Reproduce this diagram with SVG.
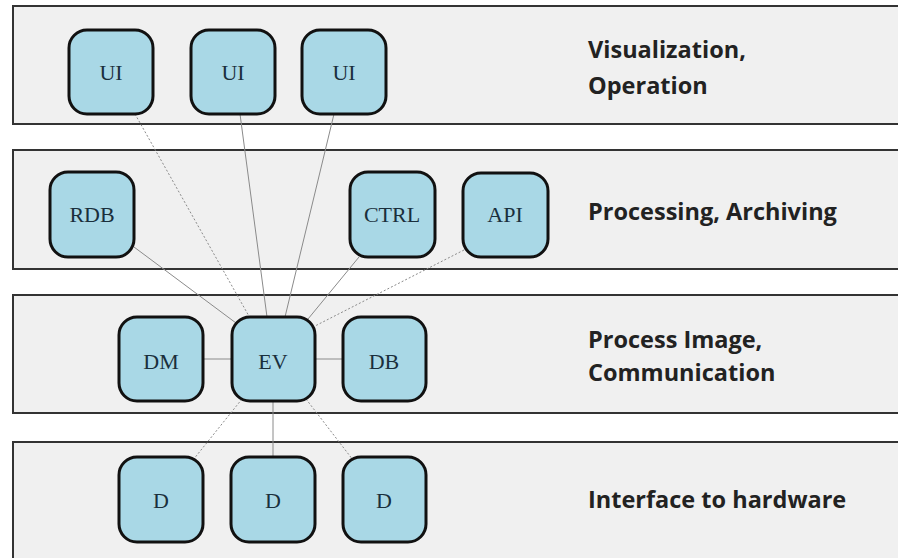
<svg xmlns="http://www.w3.org/2000/svg" width="898" height="558" viewBox="0 0 898 558">
<style>
.band{fill:#f0f0f0;stroke:#333;stroke-width:2}
.node rect{fill:#a9d8e6;stroke:#111;stroke-width:3}
.node text{font-family:"Liberation Serif","Times New Roman",serif;font-size:22px;fill:#1a2f3c;text-anchor:middle}
.lbl{font-family:"Open Sans","Liberation Sans",sans-serif;font-weight:700;font-size:23.5px;fill:#222}
.c line{stroke:#8a8a8a;stroke-width:1}
.c .dot{stroke-dasharray:2 2}
</style>
<rect width="898" height="558" fill="#fff"/>
<g id="bands">
<rect class="band" x="13" y="6" width="900" height="118"/>
<rect class="band" x="13" y="150" width="900" height="119"/>
<rect class="band" x="13" y="295" width="900" height="118"/>
<rect class="band" x="13" y="442" width="900" height="130"/>
</g>
<g id="labels">
<text class="lbl" x="588" y="58">Visualization,</text>
<text class="lbl" x="588" y="94">Operation</text>
<text class="lbl" x="588" y="220">Processing, Archiving</text>
<text class="lbl" x="588" y="348">Process Image,</text>
<text class="lbl" x="588" y="381">Communication</text>
<text class="lbl" x="588" y="508">Interface to hardware</text>
</g>
<g id="connectors" class="c">
<line class="dot" x1="135" y1="114" x2="250" y2="318"/>
<line x1="240" y1="114" x2="267" y2="317"/>
<line x1="334" y1="114" x2="285" y2="317"/>
<line x1="134" y1="247" x2="236" y2="323"/>
<line x1="359" y1="257" x2="308" y2="319"/>
<line class="dot" x1="464" y1="250" x2="315" y2="326"/>
<line x1="203" y1="359" x2="232" y2="359"/>
<line x1="315" y1="359" x2="343" y2="359"/>
<line class="dot" x1="242" y1="399" x2="193" y2="460"/>
<line x1="273" y1="400" x2="273" y2="457"/>
<line class="dot" x1="306" y1="399" x2="353" y2="460"/>
</g>
<g id="ui1" class="node"><rect x="69" y="30" width="84" height="84" rx="18"/><text x="111" y="80">UI</text></g>
<g id="ui2" class="node"><rect x="191" y="30" width="84" height="84" rx="18"/><text x="233" y="80">UI</text></g>
<g id="ui3" class="node"><rect x="302" y="30" width="84" height="84" rx="18"/><text x="344" y="80">UI</text></g>
<g id="rdb" class="node"><rect x="50" y="172" width="84" height="85" rx="18"/><text x="92" y="222">RDB</text></g>
<g id="ctrl" class="node"><rect x="350" y="172" width="85" height="85" rx="18"/><text x="392" y="222">CTRL</text></g>
<g id="api" class="node"><rect x="463" y="173" width="85" height="84" rx="18"/><text x="505" y="222">API</text></g>
<g id="dm" class="node"><rect x="119" y="317" width="84" height="84" rx="18"/><text x="161" y="369">DM</text></g>
<g id="ev" class="node"><rect x="232" y="317" width="83" height="84" rx="18"/><text x="273" y="369">EV</text></g>
<g id="db" class="node"><rect x="343" y="317" width="83" height="84" rx="18"/><text x="384" y="369">DB</text></g>
<g id="d1" class="node"><rect x="119" y="457" width="84" height="85" rx="18"/><text x="161" y="508">D</text></g>
<g id="d2" class="node"><rect x="231" y="457" width="84" height="85" rx="18"/><text x="273" y="508">D</text></g>
<g id="d3" class="node"><rect x="343" y="457" width="83" height="85" rx="18"/><text x="384" y="508">D</text></g>
</svg>
